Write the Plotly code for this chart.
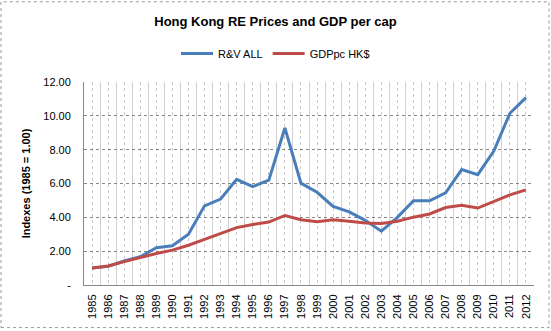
import plotly.graph_objects as go

years = [str(y) for y in range(1985, 2013)]
rv_all = [1.00, 1.10, 1.42, 1.67, 2.20, 2.32, 3.00, 4.68, 5.08, 6.25, 5.82, 6.20,
          9.28, 6.02, 5.48, 4.65, 4.32, 3.82, 3.18, 4.00, 4.98, 4.98, 5.45, 6.82,
          6.52, 7.92, 10.15, 11.08]
gdppc = [1.00, 1.12, 1.38, 1.63, 1.86, 2.06, 2.35, 2.70, 3.06, 3.39, 3.58, 3.72,
         4.11, 3.86, 3.74, 3.85, 3.77, 3.67, 3.63, 3.77, 4.01, 4.20, 4.58, 4.71,
         4.55, 4.96, 5.33, 5.62]
yticks = [0, 2, 4, 6, 8, 10, 12]
yticktext = ["-", "2.00", "4.00", "6.00", "8.00", "10.00", "12.00"]

idx = list(range(len(years)))
font = "Liberation Sans"

fig = go.Figure()
fig.add_trace(go.Scatter(x=idx, y=rv_all, mode="lines", name="R&V ALL",
                         line=dict(color="#4A7EBB", width=3)))
fig.add_trace(go.Scatter(x=idx, y=gdppc, mode="lines", name="GDPpc HK$",
                         line=dict(color="#BE4B48", width=3)))

fig.update_layout(
    width=551, height=331,
    margin=dict(l=84, r=17, t=82, b=44),
    paper_bgcolor="white", plot_bgcolor="white",
    font=dict(family=font, size=11, color="#000"),
    title=dict(text="<b>Hong Kong RE Prices and GDP per cap</b>", x=0.5, xanchor="center",
               y=0.935, yanchor="middle", font=dict(size=13, family=font)),
    legend=dict(orientation="h", x=0.4256, xanchor="center", y=1.14, yanchor="middle",
                font=dict(size=11), itemwidth=32, bgcolor="rgba(0,0,0,0)"),
    showlegend=True,
)
fig.update_xaxes(
    range=[-0.5, len(years) - 0.5],
    tickmode="array", tickvals=idx, ticktext=years, tickangle=-90,
    showgrid=True, gridcolor="#C8C8C8", griddash="dot", gridwidth=1,
    minor=dict(tickmode="linear", tick0=-0.5, dtick=1, showgrid=True,
               gridcolor="#D0D0D0", griddash="solid", gridwidth=1),
    showline=True, linecolor="#888", linewidth=1,
    ticks="", tickfont=dict(size=11), zeroline=False, ticklabelstandoff=4,
)
fig.update_yaxes(
    range=[0, 12], tickmode="array", tickvals=yticks, ticktext=yticktext,
    showgrid=True, gridcolor="#888", griddash="dot", gridwidth=1,
    showline=True, linecolor="#888", linewidth=1, zeroline=False,
    ticks="", tickfont=dict(size=11), ticklabelstandoff=10,
    title=dict(text="<b>Indexes (1985 = 1.00)</b>", font=dict(size=11), standoff=10),
)
# outer chart border
fig.add_shape(type="rect", xref="paper", yref="paper",
              x0=-83 / 450, x1=1 + 15 / 450, y0=-43 / 205, y1=1 + 81 / 205,
              line=dict(color="#999", width=1, dash="dot"))

fig.write_html("out.html")
